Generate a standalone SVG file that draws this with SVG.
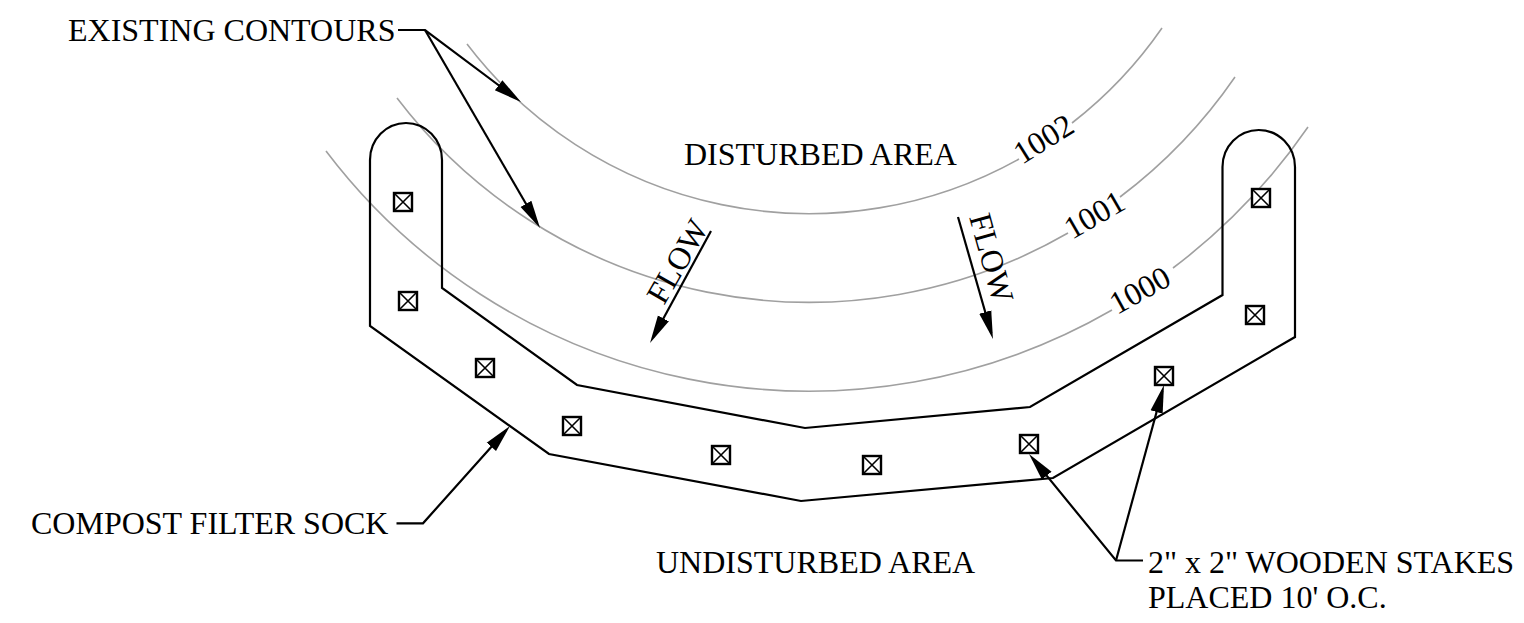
<svg xmlns="http://www.w3.org/2000/svg" width="1524" height="623" viewBox="0 0 1524 623">
<style>
text{font-family:"Liberation Serif","Times New Roman",serif;font-size:32px;fill:#000}
.contour{fill:none;stroke:#a0a0a0;stroke-width:1.6}
.sock{fill:none;stroke:#000;stroke-width:2.200}
.lead{fill:none;stroke:#000;stroke-width:2.200}
.stake{fill:#fff;stroke:#000;stroke-width:2.400}
.cross{fill:none;stroke:#000;stroke-width:1.600}
</style>
<defs>
<marker id="ah" markerUnits="userSpaceOnUse" markerWidth="30" markerHeight="16" refX="22" refY="8" orient="auto"><path d="M0 1.750L28 8L0 14.250Z" fill="#000"/></marker>
<g id="st"><rect class="stake" x="-9" y="-9" width="18" height="18"/><path class="cross" d="M-9 -9L9 9M-9 9L9 -9"/></g>
</defs>
<rect width="1524" height="623" fill="#fff"/>
<g id="contours">
<path class="contour" d="M467 44A430 430 0 0 0 1019 159"/>
<path class="contour" d="M1072 123A430 430 0 0 0 1162 28"/>
<path class="contour" d="M397 98A518 518 0 0 0 1068 233"/>
<path class="contour" d="M1120 197A518 518 0 0 0 1235 77"/>
<path class="contour" d="M326 151A606 606 0 0 0 1112 310"/>
<path class="contour" d="M1173 268A606 606 0 0 0 1308 127"/>
</g>
<g id="sock"><path class="sock" d="M370 160A36 37 0 0 1 442 160V288L577 385L805 428L1030 407L1222.500 295V167A36.250 37 0 0 1 1295 167V337L1053 478L801 501L549 454L370 326Z"/></g>
<g id="stakes">
<use id="stake1" href="#st" x="403" y="202"/>
<use id="stake2" href="#st" x="408" y="301"/>
<use id="stake3" href="#st" x="485" y="368"/>
<use id="stake4" href="#st" x="572" y="426"/>
<use id="stake5" href="#st" x="721" y="455"/>
<use id="stake6" href="#st" x="872" y="465"/>
<use id="stake7" href="#st" x="1029" y="444"/>
<use id="stake8" href="#st" x="1164" y="376"/>
<use id="stake9" href="#st" x="1255" y="315"/>
<use id="stake10" href="#st" x="1261" y="198"/>
</g>
<g id="connectors">
<path class="lead" d="M398 30H425L516.200 98.400" marker-end="url(#ah)"/>
<path class="lead" d="M425 30L537 222.800" marker-end="url(#ah)"/>
<path class="lead" d="M711 231L652.900 337.700" marker-end="url(#ah)"/>
<path class="lead" d="M958 217L991.300 333.200" marker-end="url(#ah)"/>
<path class="lead" d="M396.500 523.300H423L506 430.500" marker-end="url(#ah)"/>
<path class="lead" d="M1143 560.500H1116L1032.800 458.600" marker-end="url(#ah)"/>
<path class="lead" d="M1116 560.500L1162.400 390.800" marker-end="url(#ah)"/>
</g>
<g id="labels">
<text id="t-contours" x="68" y="41">EXISTING CONTOURS</text>
<text id="t-disturbed" x="684" y="165">DISTURBED AREA</text>
<text id="t-sock" x="31" y="534">COMPOST FILTER SOCK</text>
<text id="t-undisturbed" x="656" y="572.500">UNDISTURBED AREA</text>
<text id="t-stakes1" x="1148" y="572.500">2" x 2" WOODEN STAKES</text>
<text id="t-stakes2" x="1148" y="608">PLACED 10' O.C.</text>
<text id="t-flow1" transform="translate(664 306) rotate(-60)">FLOW</text>
<text id="t-flow2" transform="translate(969 217) rotate(74.500)">FLOW</text>
<text id="t-1002" transform="translate(1022 165) rotate(-32)">1002</text>
<text id="t-1001" transform="translate(1072 240) rotate(-30)">1001</text>
<text id="t-1000" transform="translate(1117 315) rotate(-29)">1000</text>
</g>
</svg>
